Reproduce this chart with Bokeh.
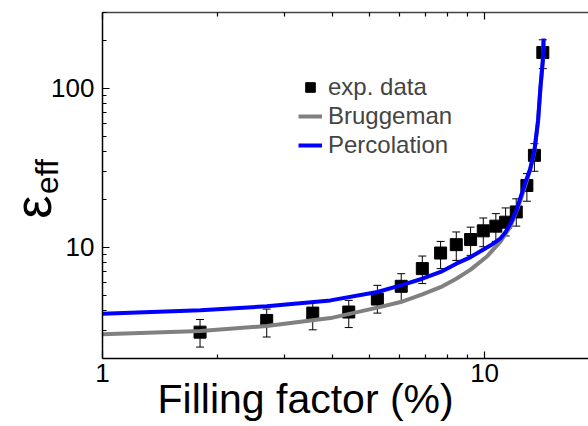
import numpy as np
from bokeh.plotting import figure
from bokeh.models import (Range1d, LogAxis, FixedTicker, Whisker, TeeHead, ColumnDataSource,
                          Legend, LegendItem, PrintfTickFormatter)
from bokeh.embed import file_html
from bokeh.resources import INLINE

# experimental data (filling factor %, effective permittivity)
x_data = [1.80, 2.69, 3.55, 4.41, 5.24, 6.05, 6.87, 7.67, 8.43, 9.19, 9.92, 10.7, 11.35, 12.1, 12.9, 13.5, 14.2]
y_data = [2.93, 3.47, 3.86, 3.92, 4.73, 5.69, 7.35, 9.21, 10.4, 11.2, 12.7, 13.6, 14.4, 16.7, 24.5, 37.9, 168]
y_upper = [3.52, 4.09, 4.53, 4.64, 5.77, 6.83, 8.82, 10.9, 12.5, 13.4, 15.3, 16.3, 17.7, 20.2, 29.1, 44.9, 202]
y_lower = [2.36, 2.73, 3.03, 3.13, 3.86, 4.57, 5.92, 7.35, 8.28, 8.91, 10.1, 10.9, 11.8, 13.6, 19.5, 30.1, 133]

# Bruggeman model curve
brug_x = [1.0, 1.805, 2.69, 3.95, 5.24, 6.03, 6.87, 7.67, 8.43, 9.19, 10.16, 11.01, 11.7, 12.42, 12.8, 13.15, 13.5, 13.8, 14.0, 14.2, 14.27]
brug_y = [2.84, 2.98, 3.20, 3.59, 4.18, 4.53, 5.06, 5.62, 6.35, 7.24, 8.8, 10.9, 13.6, 19.8, 25.0, 30.5, 40.0, 62.0, 100.0, 148.0, 200.0]

# Percolation model curve
perc_x = [1.0, 1.805, 2.69, 3.95, 5.24, 6.03, 6.87, 7.67, 8.43, 9.19, 10.37, 11.01, 11.35, 11.7, 12.1, 12.42, 12.8, 13.15, 13.5, 13.8, 14.0, 14.2, 14.27]
perc_y = [3.83, 4.02, 4.26, 4.64, 5.24, 5.77, 6.35, 7.0, 7.9, 8.69, 10.3, 11.4, 12.5, 14.2, 17.0, 20.7, 25.8, 31.0, 40.7, 63.0, 102.0, 150.0, 206.0]

x_major = [1, 10]
x_minor = [2, 3, 4, 5, 6, 7, 8, 9]
y_major = [10, 100]
y_minor = [3, 4, 5, 6, 7, 8, 9, 20, 30, 40, 50, 60, 70, 80, 90, 200, 300]

FONT = "Liberation Sans"
NB = "\u00a0"

p = figure(width=588, height=426, x_axis_type="log", y_axis_type="log",
           x_range=Range1d(1, 18.7), y_range=Range1d(2, 300),
           min_border_left=102, min_border_right=0, min_border_top=12, min_border_bottom=68,
           output_backend="svg", toolbar_location=None)
p.outline_line_color = None
p.grid.visible = False
p.background_fill_color = "white"
p.border_fill_color = "white"

bottom_axis = p.below[0]
left_axis = p.left[0]
top_axis = LogAxis()
p.add_layout(top_axis, "above")
eps_axis = LogAxis()
p.add_layout(eps_axis, "left")

for ax in [bottom_axis, left_axis, top_axis]:
    ax.axis_line_color = "black"
    ax.axis_line_width = 1.5
    ax.major_tick_line_color = "black"
    ax.minor_tick_line_color = "black"
    ax.major_tick_line_width = 1.2
    ax.minor_tick_line_width = 1.2
    ax.major_tick_in = 7
    ax.major_tick_out = 0
    ax.minor_tick_in = 4
    ax.minor_tick_out = 0
    ax.major_label_text_font = FONT
    ax.major_label_text_font_size = "26px"
    ax.major_label_text_color = "black"
    ax.major_label_standoff = 8
    ax.formatter = PrintfTickFormatter(format="%d")

bottom_axis.ticker = FixedTicker(ticks=x_major, minor_ticks=x_minor)
top_axis.ticker = FixedTicker(ticks=x_major, minor_ticks=x_minor)
left_axis.ticker = FixedTicker(ticks=y_major, minor_ticks=y_minor)
top_axis.major_label_text_font_size = "1px"
top_axis.major_label_text_alpha = 0
top_axis.major_label_standoff = 0
top_axis.axis_line_color = "#444444"
bottom_axis.major_label_standoff = 5

# axis titles
bottom_axis.axis_label = "Filling factor (%)" + NB * 7
bottom_axis.axis_label_text_font = FONT
bottom_axis.axis_label_text_font_size = "41px"
bottom_axis.axis_label_text_font_style = "normal"
bottom_axis.axis_label_text_color = "black"
bottom_axis.axis_label_standoff = -9

left_axis.axis_label = NB * 2 + "eff"
left_axis.axis_label_text_font = FONT
left_axis.axis_label_text_font_size = "32px"
left_axis.axis_label_text_font_style = "normal"
left_axis.axis_label_text_color = "black"
left_axis.axis_label_standoff = -17

eps_axis.ticker = FixedTicker(ticks=[], minor_ticks=[])
eps_axis.axis_line_color = None
eps_axis.major_tick_line_color = None
eps_axis.minor_tick_line_color = None
eps_axis.axis_label = "\u03b5" + NB * 3
eps_axis.axis_label_text_font = FONT
eps_axis.axis_label_text_font_size = "52px"
eps_axis.axis_label_text_font_style = "normal"
eps_axis.axis_label_text_color = "black"
eps_axis.axis_label_standoff = -35

src = ColumnDataSource(dict(x=x_data, y=y_data, upper=y_upper, lower=y_lower))
wh = Whisker(source=src, base="x", upper="upper", lower="lower", dimension="height",
             line_color="black", line_width=1,
             upper_head=TeeHead(size=8, line_color="black", line_width=1),
             lower_head=TeeHead(size=8, line_color="black", line_width=1))
p.add_layout(wh)
r_pts = p.scatter("x", "y", source=src, marker="square", size=12, color="black")
r_brug = p.line(brug_x, brug_y, line_color="#808080", line_width=4)
r_perc = p.line(perc_x, perc_y, line_color="#0000FF", line_width=4)

legend = Legend(items=[LegendItem(label="exp. data", renderers=[r_pts]),
                       LegendItem(label="Bruggeman", renderers=[r_brug]),
                       LegendItem(label="Percolation", renderers=[r_perc])],
                location=(196, 199), background_fill_alpha=0, border_line_color=None,
                label_text_font=FONT, label_text_font_size="24px", label_standoff=6,
                glyph_width=24, glyph_height=28, spacing=1, padding=0, margin=0)
p.add_layout(legend)

open("out.html", "w").write(file_html(p, INLINE))
